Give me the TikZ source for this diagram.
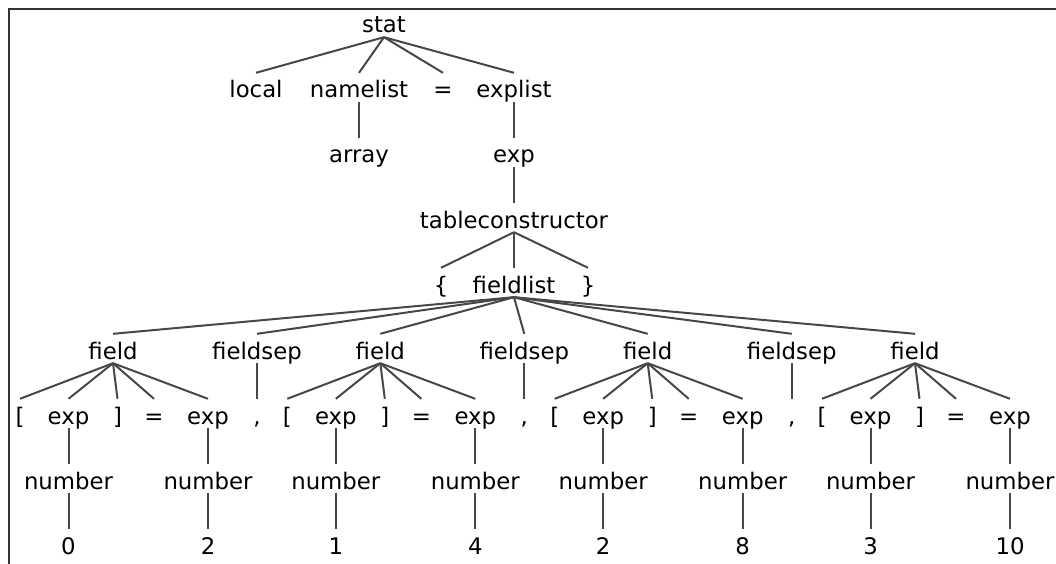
\documentclass[tikz,border=0pt]{standalone}
\usepackage{fontspec}
\setmainfont{DejaVu Sans}
\begin{document}
\begin{tikzpicture}[x=1pt,y=-1pt,
  t/.style={inner sep=0pt, anchor=base, text height=25pt, text depth=4pt, font=\fontsize{22.8}{27}\selectfont},
  edge/.style={draw=black!72, line width=2pt}]
\useasboundingbox (0,0) rectangle (1056,564);
\draw[line width=2pt, black!80] (9,564) -- (9,9) -- (1056,9);
% upper tree
\node[t] (stat) at (384,33) {stat};
\node[t] (local) at (256,98) {local};
\node[t] (namelist) at (359,98) {namelist};
\node[t] (eq0) at (443,98) {=};
\node[t] (explist) at (514,98) {explist};
\node[t] (array) at (359,163) {array};
\node[t] (exp0) at (514,163) {exp};
\node[t] (tc) at (514,228) {tableconstructor};
\node[t] (lbrace) at (441,293) {\{};
\node[t] (fieldlist) at (514,293) {fieldlist};
\node[t] (rbrace) at (588,293) {\}};
\foreach \c in {local,namelist,eq0,explist} \draw[edge] (stat.south) -- (\c.north);
\draw[edge] (namelist.south) -- (array.north);
\draw[edge] (explist.south) -- (exp0.north);
\draw[edge] (exp0.south) -- (tc.north);
\foreach \c in {lbrace,fieldlist,rbrace} \draw[edge] (tc.south) -- (\c.north);
% fields
\foreach \g/\gx/\da/\db in {1/20/0/2, 2/287.3/1/4, 3/554.7/2/8, 4/822/3/10} {
  \node[t] (field\g) at (\gx+93,359) {field};
  \node[t] (lb\g) at (\gx,424) {[};
  \node[t] (ea\g) at (\gx+48.5,424) {exp};
  \node[t] (rb\g) at (\gx+97.5,424) {]};
  \node[t] (eq\g) at (\gx+134,424) {=};
  \node[t] (eb\g) at (\gx+188,424) {exp};
  \node[t] (na\g) at (\gx+48.5,489) {number};
  \node[t] (nb\g) at (\gx+188,489) {number};
  \node[t] (da\g) at (\gx+48.5,554) {\da};
  \node[t] (db\g) at (\gx+188,554) {\db};
  \draw[edge] (fieldlist.south) -- (field\g.north);
  \foreach \c in {lb,ea,rb,eq,eb} \draw[edge] (field\g.south) -- (\c\g.north);
  \draw[edge] (ea\g.south) -- (na\g.north);
  \draw[edge] (eb\g.south) -- (nb\g.north);
  \draw[edge] (na\g.south) -- (da\g.north);
  \draw[edge] (nb\g.south) -- (db\g.north);
}
\foreach \g/\gx in {1/20, 2/287.3, 3/554.7} {
  \node[t] (fs\g) at (\gx+237,359) {fieldsep};
  \node[t] (comma\g) at (\gx+237,424) {,};
  \draw[edge] (fieldlist.south) -- (fs\g.north);
  \draw[edge] (fs\g.south) -- (comma\g.north);
}
\end{tikzpicture}
\end{document}
